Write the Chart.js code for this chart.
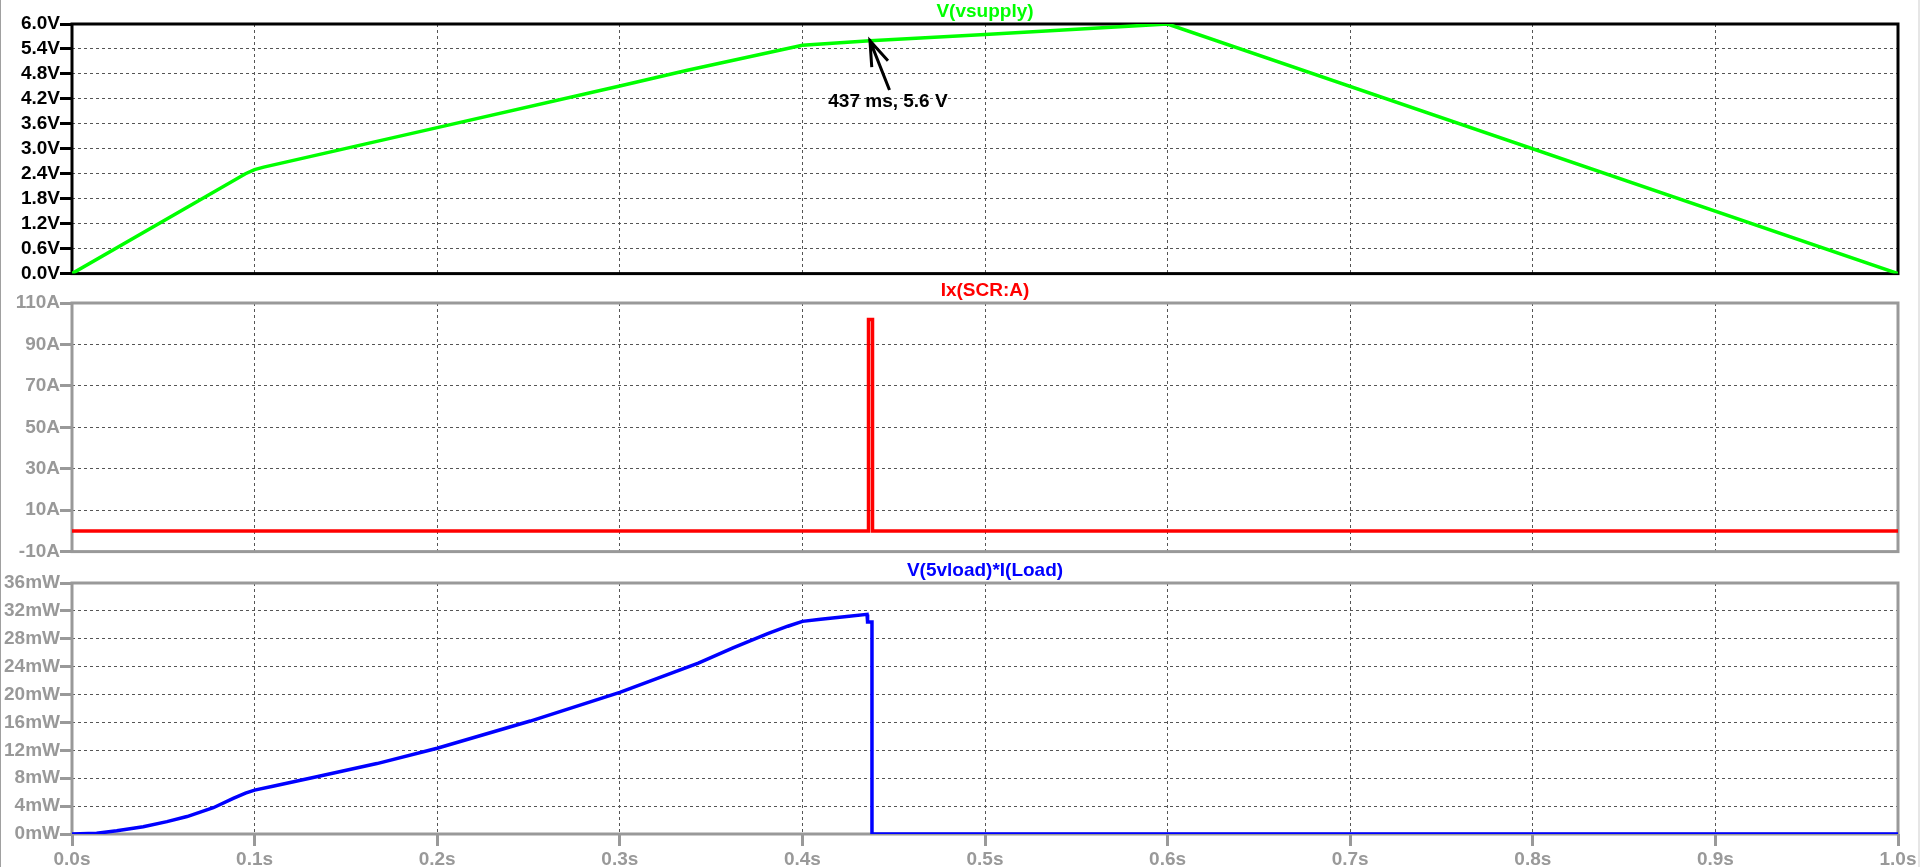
<!DOCTYPE html>
<html><head><meta charset="utf-8">
<script src="https://cdn.jsdelivr.net/npm/chart.js@4/dist/chart.umd.min.js"></script>
<style>
html,body{margin:0;padding:0;background:#fff;width:1920px;height:867px;overflow:hidden;}
#wrap{position:relative;width:1920px;height:867px;}
canvas{position:absolute;left:0;}
#frameL{position:absolute;left:0;top:0;width:1px;height:867px;background:#a0a0a0;}
#frameR{position:absolute;right:0;top:0;width:2px;height:867px;background:#e6e6e6;}
</style></head><body><div id="wrap">
<canvas id="c1" width="1920" height="285" style="top:0px"></canvas>
<canvas id="c2" width="1920" height="284" style="top:279px"></canvas>
<canvas id="c3" width="1920" height="308" style="top:559px"></canvas>
<div id="frameL"></div><div id="frameR"></div>
</div>
<script>
// ---- tick values / labels ----
const timeTicks = [0,0.1,0.2,0.3,0.4,0.5,0.6,0.7,0.8,0.9,1.0];
const timeTickLabels = ['0.0s','0.1s','0.2s','0.3s','0.4s','0.5s','0.6s','0.7s','0.8s','0.9s','1.0s'];
const vTicks = [0,0.6,1.2,1.8,2.4,3.0,3.6,4.2,4.8,5.4,6.0];
const vTickLabels = ['0.0V','0.6V','1.2V','1.8V','2.4V','3.0V','3.6V','4.2V','4.8V','5.4V','6.0V'];
const iTicks = [-10,10,30,50,70,90,110];
const iTickLabels = ['-10A','10A','30A','50A','70A','90A','110A'];
const pTicks = [0,4,8,12,16,20,24,28,32,36];
const pTickLabels = ['0mW','4mW','8mW','12mW','16mW','20mW','24mW','28mW','32mW','36mW'];

// ---- series names ----
const seriesNames = ['V(vsupply)','Ix(SCR:A)','V(5vload)*I(Load)'];

// ---- series values ----
const vsupplyT = [0, 0.095, 0.1, 0.105, 0.2, 0.3, 0.337, 0.4, 0.437, 0.5, 0.6, 1.0];
const vsupplyV = [0, 2.4, 2.5, 2.56, 3.51, 4.51, 4.89, 5.49, 5.6, 5.75, 6.0, 0];

const scrT = [0, 0.4362, 0.4362, 0.4384, 0.4384, 1.0];
const scrI = [0, 0, 102, 102, 0, 0];

const loadT = [0, 0.0135, 0.0245, 0.039, 0.052, 0.063, 0.0774, 0.0883, 0.095, 0.1, 0.11, 0.134, 0.167, 0.2, 0.251, 0.3, 0.343, 0.362, 0.381, 0.392, 0.4, 0.41, 0.4243, 0.4354, 0.4357, 0.4381, 0.4381, 1.0];
const loadP = [0, 0.1, 0.47, 1.05, 1.77, 2.5, 3.77, 5.1, 5.85, 6.3, 6.85, 8.2, 10.1, 12.3, 16.2, 20.3, 24.5, 26.7, 28.75, 29.8, 30.5, 30.8, 31.2, 31.5, 30.4, 30.4, 0, 0];

// ---- cursor annotation ----
const cursorT = 0.437;
const cursorV = 5.6;
const cursorLabel = '437 ms, 5.6 V';

const FONT = {family:'"Liberation Sans", Arial, sans-serif', size:19, weight:'bold'};

const boxPlugin = {
  id:'box',
  beforeDatasetsDraw(chart, args, opts){
    const {ctx, chartArea:a} = chart;
    ctx.save();
    ctx.strokeStyle = opts.color;
    ctx.lineWidth = 3;
    ctx.strokeRect(a.left, a.top, a.right-a.left, a.bottom-a.top);
    ctx.restore();
  }
};

const cursorPlugin = {
  id:'cursor',
  afterDatasetsDraw(chart){
    const ctx = chart.ctx;
    const px = chart.scales.x.getPixelForValue(cursorT);
    const py = chart.scales.y.getPixelForValue(cursorV);
    ctx.save();
    ctx.strokeStyle = '#000';
    ctx.lineWidth = 3;
    ctx.lineCap = 'square';
    ctx.beginPath();
    ctx.moveTo(px+19, py+48);
    ctx.lineTo(px, py);
    ctx.moveTo(px+1.7, py+25);
    ctx.lineTo(px, py);
    ctx.lineTo(px+17, py+19);
    ctx.stroke();
    ctx.fillStyle = '#000';
    ctx.font = 'bold 19px "Liberation Sans", Arial, sans-serif';
    ctx.textAlign = 'center';
    ctx.textBaseline = 'middle';
    ctx.fillText(cursorLabel, px+18, py+61);
    ctx.restore();
  }
};

function makeChart(id, name, color, xs, ys, yTicks, yLabels, active, showX, extraPlugins){
  const axisColor = active ? '#000000' : '#999999';
  const gridColor = '#555555';
  return new Chart(document.getElementById(id), {
    type:'line',
    data:{datasets:[{label:name, data: xs.map((t,i)=>({x:t, y:ys[i]})),
      borderColor:color, backgroundColor:color, borderWidth:3.5, pointRadius:0, tension:0, fill:false}]},
    options:{
      responsive:false, animation:false, devicePixelRatio:1,
      layout:{padding:{left:0, right:22, top:0, bottom:0}},
      plugins:{
        legend:{display:false}, tooltip:{enabled:false},
        title:{display:true, text:name, color:color, font:FONT, fullSize:false, padding:{top:0.6, bottom:0.6}},
        box:{color:axisColor}
      },
      scales:{
        x:{type:'linear', min:timeTicks[0], max:timeTicks[timeTicks.length-1],
          afterBuildTicks:s=>{ s.ticks = timeTicks.map(v=>({value:v})); },
          ticks:{display:showX, color:axisColor, font:FONT, padding:2, maxRotation:0, autoSkip:false,
            callback:(v,i)=>timeTickLabels[i]},
          grid:{color:gridColor, lineWidth:1, drawTicks:showX, tickLength:12, tickColor:axisColor, tickWidth:3, tickBorderDash:[]},
          border:{display:false, dash:[3,3]},
          afterFit:s=>{ s.height = showX ? 33 : 0; }
        },
        y:{type:'linear', min:yTicks[0], max:yTicks[yTicks.length-1],
          afterBuildTicks:s=>{ s.ticks = yTicks.map(v=>({value:v})); },
          ticks:{color:axisColor, font:FONT, padding:0, autoSkip:false, callback:(v,i)=>yLabels[i]},
          grid:{color:gridColor, lineWidth:1, drawTicks:true, tickLength:12, tickColor:axisColor, tickWidth:3, tickBorderDash:[]},
          border:{display:false, dash:[3,3]},
          afterFit:s=>{ s.width = 72; }
        }
      }
    },
    plugins:[boxPlugin].concat(extraPlugins||[])
  });
}

makeChart('c1', seriesNames[0], '#00ff00', vsupplyT, vsupplyV, vTicks, vTickLabels, true, false, [cursorPlugin]);
makeChart('c2', seriesNames[1], '#ff0000', scrT, scrI, iTicks, iTickLabels, false, false);
makeChart('c3', seriesNames[2], '#0000ff', loadT, loadP, pTicks, pTickLabels, false, true);
</script>
</body></html>
